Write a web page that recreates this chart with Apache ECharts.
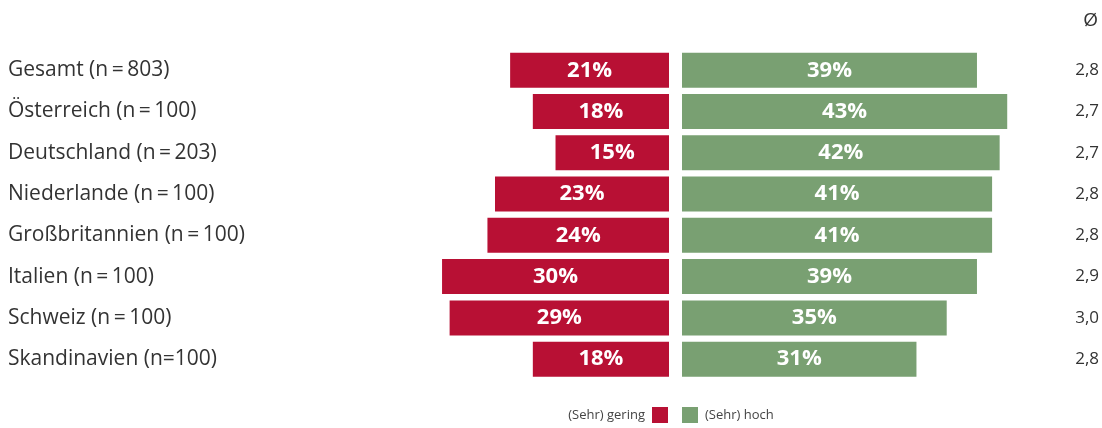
<!DOCTYPE html>
<html>
<head>
<meta charset="utf-8">
<script src="https://cdn.jsdelivr.net/npm/echarts@6/dist/echarts.min.js"></script>
<style>
  html, body { margin: 0; padding: 0; background: #fff; }
  #chart { width: 1102px; height: 428px; }
</style>
</head>
<body>
<div id="chart"></div>
<script>
// Daten
var categories = ['Gesamt (n\u2009=\u2009803)', 'Österreich (n\u2009=\u2009100)', 'Deutschland (n\u2009=\u2009203)', 'Niederlande (n\u2009=\u2009100)',
  'Großbritannien (n\u2009=\u2009100)', 'Italien (n\u2009=\u2009100)', 'Schweiz (n\u2009=\u2009100)', 'Skandinavien (n=100)']
var geringValues = [21, 18, 15, 23, 24, 30, 29, 18]
var hochValues = [39, 43, 42, 41, 41, 39, 35, 31]
var averageLabels = ['2,8', '2,7', '2,7', '2,8', '2,8', '2,9', '3,0', '2,8']

var RED = '#b81034'
var GREEN = '#79a072'
var FONT = '"Open Sans", "Liberation Sans", sans-serif'

var myChart = echarts.init(document.getElementById('chart'))
myChart.setOption({
  animation: false,
  textStyle: { fontFamily: FONT },
  title: {
    text: 'Ø',
    right: 4,
    top: 11,
    padding: 0,
    textStyle: { fontFamily: FONT, fontSize: 19, fontWeight: 'normal', color: '#333' }
  },
  legend: [
    {
      data: ['(Sehr) gering'],
      right: 434,
      top: 407,
      padding: 0,
      align: 'right',
      itemWidth: 16,
      itemHeight: 16,
      icon: 'rect',
      textStyle: { fontSize: 13, color: '#444', fontFamily: FONT, padding: [0, 2, 0, 0] }
    },
    {
      data: ['(Sehr) hoch'],
      left: 682,
      top: 407,
      padding: 0,
      align: 'left',
      itemWidth: 16,
      itemHeight: 16,
      icon: 'rect',
      textStyle: { fontSize: 13, color: '#444', fontFamily: FONT, padding: [0, 0, 0, 2] }
    }
  ],
  grid: [
    { left: 366.4, right: 433, top: 49.6, bottom: 48.2 },
    { left: 682, right: 41.75, top: 49.6, bottom: 48.2 }
  ],
  xAxis: [
    { gridIndex: 0, type: 'value', min: 0, max: 40, inverse: true, show: false },
    { gridIndex: 1, type: 'value', min: 0, max: 50, show: false }
  ],
  yAxis: [
    {
      gridIndex: 0,
      type: 'category',
      data: categories,
      inverse: true,
      position: 'left',
      axisLine: { show: false },
      axisTick: { show: false },
      axisLabel: {
        align: 'left',
        margin: 358.4,
        fontSize: 21,
        color: '#333',
        padding: [6, 0, 0, 0],
        fontFamily: FONT
      }
    },
    {
      gridIndex: 1,
      type: 'category',
      data: averageLabels,
      inverse: true,
      position: 'right',
      axisLine: { show: false },
      axisTick: { show: false },
      axisLabel: {
        align: 'left',
        margin: 15,
        fontSize: 17,
        color: '#333',
        padding: [4, 0, 0, 0],
        fontFamily: FONT
      }
    }
  ],
  series: [
    {
      name: '(Sehr) gering',
      type: 'bar',
      xAxisIndex: 0,
      yAxisIndex: 0,
      barWidth: 35,
      data: geringValues,
      itemStyle: { color: RED },
      label: {
        show: true,
        position: 'inside',
        formatter: '{c}%',
        color: '#fff',
        fontWeight: 'bold',
        fontSize: 22,
        fontFamily: FONT
      }
    },
    {
      name: '(Sehr) hoch',
      type: 'bar',
      xAxisIndex: 1,
      yAxisIndex: 1,
      barWidth: 35,
      data: hochValues,
      itemStyle: { color: GREEN },
      label: {
        show: true,
        position: 'inside',
        formatter: '{c}%',
        color: '#fff',
        fontWeight: 'bold',
        fontSize: 22,
        fontFamily: FONT
      }
    }
  ]
})
</script>
</body>
</html>
